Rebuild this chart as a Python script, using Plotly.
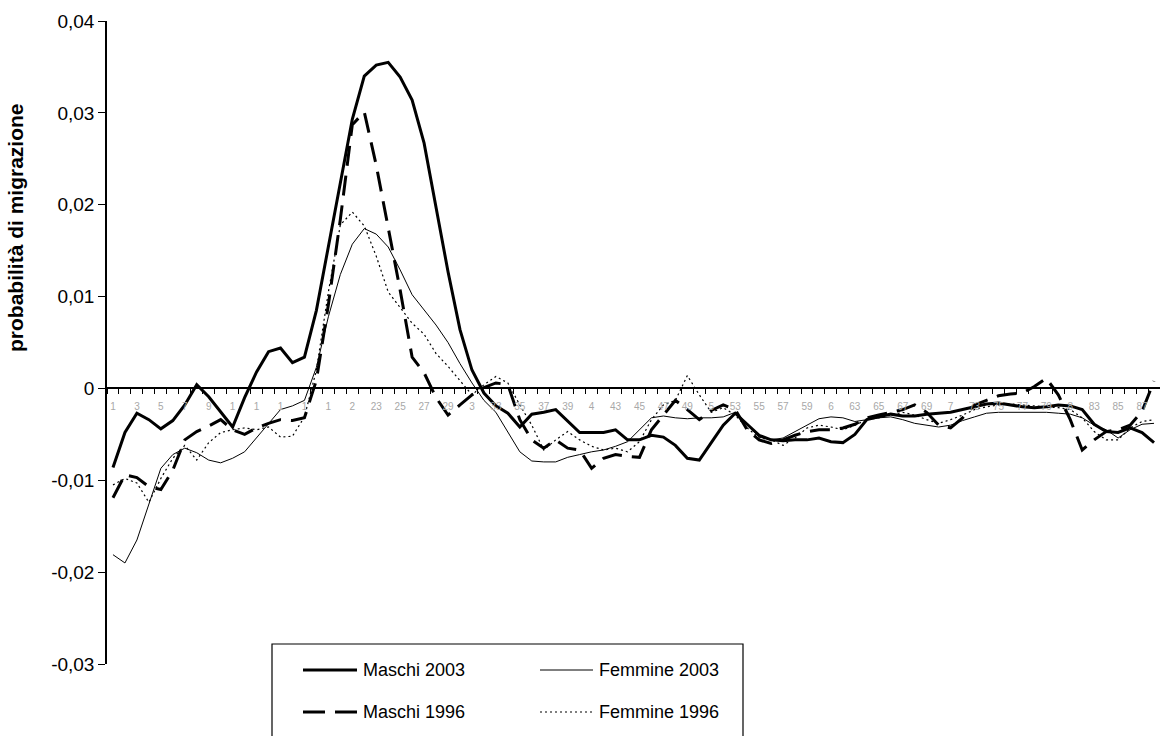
import plotly.graph_objects as go

# Age classes on the category axis
eta = list(range(1, 89))

maschi_2003 = [
    -0.0086, -0.0048, -0.0027, -0.0034, -0.0044, -0.0035, -0.0018, 0.0004, -0.0009, -0.0025,
    -0.0042, -0.0010, 0.0018, 0.0040, 0.0044, 0.0028, 0.0034, 0.0085, 0.0155, 0.0225,
    0.0293, 0.0340, 0.0352, 0.0355, 0.0339, 0.0314, 0.0267, 0.0197, 0.0127, 0.0064,
    0.0020, -0.0005, -0.0019, -0.0027, -0.0042, -0.0028, -0.0026, -0.0023, -0.0035, -0.0048,
    -0.0048, -0.0048, -0.0045, -0.0056, -0.0056, -0.0051, -0.0053, -0.0062, -0.0076, -0.0078,
    -0.0059, -0.0040, -0.0027, -0.0039, -0.0051, -0.0056, -0.0057, -0.0056, -0.0056, -0.0054,
    -0.0058, -0.0059, -0.0050, -0.0034, -0.0031, -0.0028, -0.0030, -0.0030, -0.0028, -0.0027,
    -0.0026, -0.0023, -0.0020, -0.0017, -0.0016, -0.0018, -0.0020, -0.0021, -0.0020, -0.0018,
    -0.0019, -0.0023, -0.0039, -0.0047, -0.0048, -0.0043, -0.0048, -0.0059,
]

maschi_1996 = [
    -0.0119, -0.0094, -0.0097, -0.0107, -0.0110, -0.0089, -0.0056, -0.0047, -0.0041, -0.0034,
    -0.0045, -0.0050, -0.0043, -0.0038, -0.0034, -0.0035, -0.0032, 0.0009, 0.0091, 0.0184,
    0.0287, 0.0301, 0.0243, 0.0175, 0.0107, 0.0034, 0.0017, -0.0010, -0.0029, -0.0018,
    -0.0007, 0.0001, 0.0006, 0.0004, -0.0034, -0.0056, -0.0065, -0.0056, -0.0065, -0.0067,
    -0.0087, -0.0076, -0.0072, -0.0074, -0.0075, -0.0045, -0.0029, -0.0013, -0.0023, -0.0034,
    -0.0024, -0.0018, -0.0023, -0.0045, -0.0056, -0.0060, -0.0056, -0.0051, -0.0047, -0.0045,
    -0.0045, -0.0043, -0.0039, -0.0032, -0.0029, -0.0026, -0.0023, -0.0018, -0.0026, -0.0040,
    -0.0043, -0.0032, -0.0018, -0.0013, -0.0008, -0.0006, -0.0005, 0.0002, 0.0011, -0.0007,
    -0.0034, -0.0067, -0.0056, -0.0047, -0.0045, -0.0040, -0.0025, 0.0008,
]

femmine_2003 = [
    -0.0181, -0.0190, -0.0165, -0.0127, -0.0087, -0.0072, -0.0065, -0.0070, -0.0078, -0.0081,
    -0.0076, -0.0069, -0.0054, -0.0038, -0.0023, -0.0019, -0.0013, 0.0023, 0.0078, 0.0124,
    0.0157, 0.0174, 0.0168, 0.0154, 0.0129, 0.0102, 0.0086, 0.0069, 0.0050, 0.0027,
    0.0006, -0.0013, -0.0026, -0.0047, -0.0069, -0.0079, -0.0080, -0.0080, -0.0075, -0.0072,
    -0.0069, -0.0067, -0.0063, -0.0058, -0.0045, -0.0032, -0.0030, -0.0032, -0.0033, -0.0032,
    -0.0032, -0.0031, -0.0026, -0.0040, -0.0053, -0.0056, -0.0054, -0.0047, -0.0040, -0.0033,
    -0.0031, -0.0032, -0.0036, -0.0034, -0.0032, -0.0031, -0.0034, -0.0038, -0.0040, -0.0042,
    -0.0040, -0.0035, -0.0031, -0.0027, -0.0026, -0.0026, -0.0026, -0.0026, -0.0026, -0.0027,
    -0.0028, -0.0032, -0.0040, -0.0045, -0.0054, -0.0045, -0.0039, -0.0038,
]

femmine_1996 = [
    -0.0105, -0.0098, -0.0103, -0.0124, -0.0098, -0.0076, -0.0062, -0.0078, -0.0059, -0.0048,
    -0.0045, -0.0043, -0.0045, -0.0042, -0.0053, -0.0052, -0.0031, 0.0020, 0.0105, 0.0178,
    0.0192, 0.0177, 0.0144, 0.0105, 0.0088, 0.0071, 0.0059, 0.0038, 0.0024, 0.0008,
    -0.0007, 0.0004, 0.0013, 0.0006, -0.0018, -0.0040, -0.0067, -0.0056, -0.0047, -0.0056,
    -0.0063, -0.0067, -0.0065, -0.0069, -0.0058, -0.0034, -0.0018, -0.0013, 0.0014, -0.0007,
    -0.0026, -0.0021, -0.0029, -0.0043, -0.0054, -0.0056, -0.0062, -0.0054, -0.0043, -0.0040,
    -0.0042, -0.0045, -0.0040, -0.0034, -0.0032, -0.0029, -0.0026, -0.0029, -0.0034, -0.0038,
    -0.0034, -0.0029, -0.0023, -0.0020, -0.0018, -0.0017, -0.0018, -0.0019, -0.0020, -0.0021,
    -0.0023, -0.0032, -0.0047, -0.0056, -0.0056, -0.0043, -0.0036, -0.0034,
]

# Odd ages carry a label; the labels are clipped as in the original spreadsheet export
x_tick_vals = list(range(1, 88, 2))
x_tick_text = [
    "1", "3", "5", "7", "9", "1", "1", "1", "1", "1", "2", "23", "25", "27", "29",
    "3", "33", "35", "37", "39", "4", "43", "45", "47", "49", "5", "53", "55", "57", "59",
    "6", "63", "65", "67", "69", "7", "73", "75", "77", "79", "8", "83", "85", "87",
]

y_tick_vals = [-0.03, -0.02, -0.01, 0.0, 0.01, 0.02, 0.03, 0.04]
y_tick_text = ["-0,03", "-0,02", "-0,01", "0", "0,01", "0,02", "0,03", "0,04"]

series_names = ["Maschi 2003", "Femmine 2003", "Maschi 1996", "Femmine 1996"]

FONT = "Arial, Liberation Sans, sans-serif"
W, H = 1160, 736
ML, MR, MT, MB = 107, 0, 21, 72
PW, PH = W - ML - MR, H - MT - MB


def px_x(px):
    return (px - ML) / PW


def px_y(py):
    return (H - MB - py) / PH


styles = {
    "Maschi 2003": dict(color="black", width=3, dash="solid"),
    "Femmine 2003": dict(color="black", width=1, dash="solid"),
    "Maschi 1996": dict(color="black", width=3, dash="20px,10px"),
    "Femmine 1996": dict(color="black", width=1.2, dash="2px,3px"),
}
values = {
    "Maschi 2003": maschi_2003,
    "Femmine 2003": femmine_2003,
    "Maschi 1996": maschi_1996,
    "Femmine 1996": femmine_1996,
}

fig = go.Figure()
for name in ["Femmine 1996", "Femmine 2003", "Maschi 1996", "Maschi 2003"]:
    fig.add_trace(go.Scatter(
        x=eta, y=values[name], mode="lines", name=name,
        line=styles[name], showlegend=False, hoverinfo="skip",
    ))

y_min, y_max = -0.03, 0.04

fig.update_layout(
    width=W, height=H,
    margin=dict(l=ML, r=MR, t=MT, b=MB, pad=0),
    paper_bgcolor="white", plot_bgcolor="white",
    font=dict(family=FONT, color="black"),
    xaxis=dict(
        range=[0.5, 88.5], anchor="free", position=(0 - y_min) / (y_max - y_min),
        showline=True, linecolor="black", linewidth=1.5, showgrid=False, zeroline=False,
        tickmode="array", tickvals=x_tick_vals, ticktext=x_tick_text,
        ticks="outside", ticklen=9, tickcolor="rgba(0,0,0,0)",
        tickfont=dict(size=10, color="#a8a8a8", family=FONT), tickangle=0,
        minor=dict(tickmode="array", tickvals=[v + 0.5 for v in range(0, 89)],
                   ticks="outside", ticklen=5, tickcolor="black", tickwidth=1.2),
    ),
    yaxis=dict(
        range=[y_min, y_max], showline=True, linecolor="black", linewidth=1.5,
        showgrid=False, zeroline=False,
        tickmode="array", tickvals=y_tick_vals, ticktext=y_tick_text,
        ticks="outside", ticklen=7, tickcolor="black", tickwidth=1.2,
        tickfont=dict(size=19, color="black", family=FONT),
    ),
)

# Y-axis title
fig.add_annotation(
    text="<b>probabilità di migrazione</b>", textangle=-90,
    xref="paper", yref="paper", x=px_x(15), y=px_y(228),
    xanchor="center", yanchor="middle", showarrow=False,
    font=dict(size=21, family=FONT, color="black"),
)

# Legend box with two columns
fig.add_shape(type="rect", xref="paper", yref="paper",
              x0=px_x(272), x1=px_x(743), y0=px_y(745), y1=px_y(644),
              line=dict(color="black", width=1.2), fillcolor="white", layer="above")

legend_slots = {
    "Maschi 2003": (303, 357, 670),
    "Femmine 2003": (540, 593, 670),
    "Maschi 1996": (303, 357, 712),
    "Femmine 1996": (540, 593, 712),
}
for name in series_names:
    x0, x1, yy = legend_slots[name]
    st = styles[name]
    fig.add_shape(type="line", xref="paper", yref="paper",
                  x0=px_x(x0), x1=px_x(x1), y0=px_y(yy), y1=px_y(yy),
                  line=dict(color=st["color"], width=st["width"],
                            dash="22px,10px" if name == "Maschi 1996" else st["dash"]),
                  layer="above")
    fig.add_annotation(text=name, xref="paper", yref="paper",
                       x=px_x(x1 + 4), y=px_y(yy), xanchor="left", yanchor="middle",
                       showarrow=False, font=dict(size=18, family=FONT, color="black"))

fig.write_html("out.html")
